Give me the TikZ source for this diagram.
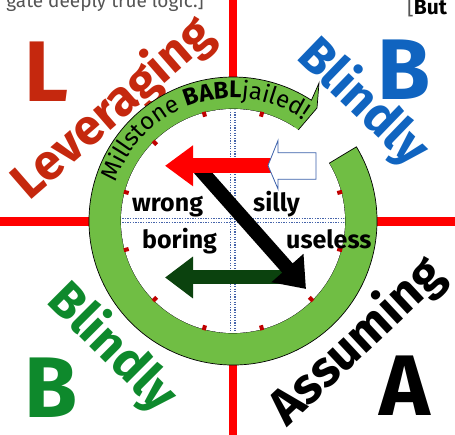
\documentclass[tikz,border=0pt]{standalone}
\usepackage{fontspec}
\setmainfont{Fira Sans}
\usetikzlibrary{calc,arrows.meta,decorations.text}
\definecolor{lred}{RGB}{197,40,14}
\definecolor{bblue}{RGB}{16,100,192}
\definecolor{bgreen}{RGB}{14,137,44}
\definecolor{ringgreen}{RGB}{112,190,68}
\definecolor{dkgreen}{RGB}{11,66,14}
\definecolor{tickred}{RGB}{192,0,0}
\definecolor{dotblue}{RGB}{70,100,170}
\definecolor{wblue}{RGB}{58,96,170}
\definecolor{topgray}{RGB}{85,85,85}
\tikzset{
  redline/.style={draw=red, line width=8pt},
  bigletter/.style={anchor=base west, inner sep=0pt, font=\fontsize{86}{86}\selectfont\bfseries},
  bigword/.style={inner sep=0pt, font=\fontsize{50}{50}\selectfont\bfseries},
  quadword/.style={anchor=base west, inner sep=0pt, font=\fontsize{25}{25}\selectfont\bfseries},
  ringstyle/.style={fill=ringgreen, draw=black, line width=0.7pt},
  tickmark/.style={draw=tickred, line width=4pt},
  dotline/.style={draw=dotblue, line width=1.3pt, dash pattern=on 1.3pt off 1.3pt},
  toptext/.style={inner sep=0pt, font=\fontsize{19}{19}\selectfont}
}
\begin{document}
\begin{tikzpicture}[x=1pt,y=1pt]
\useasboundingbox (0,0) rectangle (455,-435);
\coordinate (C) at (233,-221);
% red cross
\coordinate (vt) at (233,0); \coordinate (vb) at (233,-435);
\coordinate (hl) at (0,-221.5); \coordinate (hr) at (455,-221.5);
\draw[redline] (vt) -- (vb);
\draw[redline, line width=9pt] (hl) -- (hr);
% top texts
\node[toptext, anchor=base east, text=topgray] (t1) at (204,-7.5) {gate deeply true logic.]};
\node[toptext, anchor=base west, font=\fontsize{21}{21}\selectfont] (t2) at (407,-14.5) {\textcolor{topgray}{[}\textbf{But}};
% big letters
\node[bigletter, text=lred] (L) at (24,-102) {L};
\node[bigletter, text=bblue] (B1) at (377,-100) {B};
\node[bigletter, text=bgreen] (B2) at (24,-417) {B};
\node[bigletter, text=black] (A) at (379,-415) {A};
% rotated words
\node[bigword, rotate=41, text=lred] (lev) at (113,-109) {Leveraging};
\node[bigword, rotate=-44, text=bblue] (bl1) at (363,-103) {Blindly};
\node[bigword, rotate=-45, text=bgreen] (bl2) at (112,-348) {Blindly};
\node[bigword, rotate=43, text=black] (ass) at (357,-342) {Assuming};
% ring arrow
\coordinate (hb1) at (319,-83);
\coordinate (htip) at (317,-108);
\coordinate (hb2) at (288,-142);
\draw[ringstyle] ($(C)+(31:144)$) arc[start angle=31, end angle=-303, radius=144]
  -- (hb1) -- (htip) -- (hb2) -- ($(C)+(57:112)$)
  arc[start angle=-303, end angle=31, radius=112] -- cycle;
% inner white disc
\fill[white] (C) circle[radius=112];
% ticks
\foreach \a in {15,75,105,135,165,195,225,255,285,315,345}
  \draw[tickmark] ($(C)+(\a:108)$) -- ($(C)+(\a:113)$);
% dotted quadrant lines
\begin{scope}
  \clip (C) circle[radius=111.5];
  \coordinate (d1a) at (230.5,0); \coordinate (d1b) at (230.5,-435);
  \coordinate (d2a) at (235,0); \coordinate (d2b) at (235,-435);
  \coordinate (d3a) at (0,-218.5); \coordinate (d3b) at (455,-218.5);
  \coordinate (d4a) at (0,-222.5); \coordinate (d4b) at (455,-222.5);
  \draw[dotline] (d1a) -- (d1b);
  \draw[dotline] (d2a) -- (d2b);
  \draw[dotline] (d3a) -- (d3b);
  \draw[dotline] (d4a) -- (d4b);
\end{scope}
% ring text
\coordinate (rt) at ($(C)+(162:123)$);
\path[decorate, decoration={text along path, text align=left,
  text={|\fontsize{24}{24}\selectfont|Millstone |\fontsize{24}{24}\selectfont\bfseries|BABL|\fontsize{24}{24}\selectfont|jailed!}}]
  (rt) arc[start angle=162, end angle=30, radius=123];
% arrows
\coordinate (gS) at (292,-277.5); \coordinate (gT) at (165,-277.5);
\draw[draw=dkgreen, line width=14pt, -{Triangle[length=28pt, width=40pt]}] (gS) -- (gT);
\coordinate (bS) at (197,-166); \coordinate (bT) at (306,-289);
\draw[draw=black, line width=14pt, -{Triangle[length=28pt, width=41pt]}] (bS) -- (bT);
\coordinate (rS) at (275,-165.8); \coordinate (rT) at (165,-165.8);
\draw[draw=red, line width=15pt, -{Triangle[length=28pt, width=39pt]}] (rS) -- (rT);
\draw[fill=white, draw=wblue, line width=0.8pt]
  (268,-165.5) -- (278,-140.5) -- (278,-152.7) -- (316,-152.7) -- (316,-179.3)
  -- (278,-179.3) -- (278,-189) -- cycle;
% quadrant labels
\node[quadword] (wr) at (132,-211.5) {wrong};
\node[quadword] (si) at (253,-211.5) {silly};
\node[quadword] (bo) at (142,-249) {boring};
\node[quadword] (us) at (286,-249) {useless};
\end{tikzpicture}
\end{document}
